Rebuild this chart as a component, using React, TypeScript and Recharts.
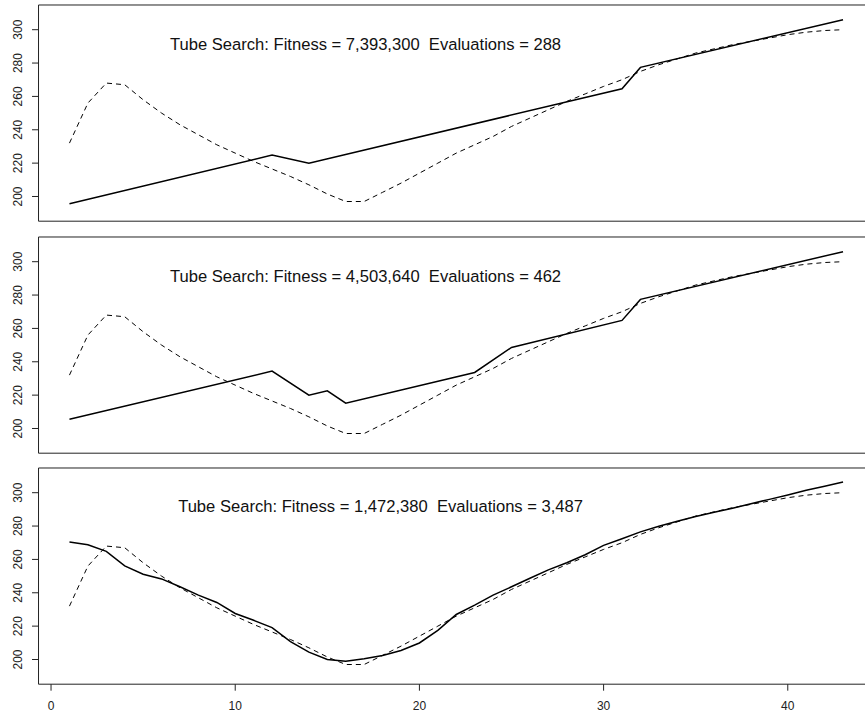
import React from "react";
import {
    LineChart,
    Line,
    XAxis,
    YAxis,
    ReferenceLine,
    ReferenceDot,
} from "recharts";

const FONT = '"Liberation Sans", Arial, Helvetica, sans-serif';

// target curve (dashed), same in every panel
const targetX = [1, 2, 3, 4, 5, 6, 7, 8, 9, 10, 11, 12, 13, 14, 15, 16, 17, 18, 19, 20, 21, 22,
    23, 24, 25, 26, 27, 28, 29, 30, 31, 32, 33, 34, 35, 36, 37, 38, 39, 40, 41, 42, 43];
const targetY = [232, 256, 268, 267, 258, 250, 243, 237, 231, 226, 221, 216.5, 212, 207, 201.5,
    197, 197, 202.5, 208, 214, 220, 226, 231, 236, 242, 247, 252, 257, 261.5, 266, 270, 275,
    279, 282.5, 286, 288.5, 291, 293, 295, 297, 298.5, 299.5, 300];

// fitted tubes (solid)
const fit1X = [1, 12, 14, 31, 32, 43];
const fit1Y = [195.6, 224.8, 220, 264.6, 277.4, 306];

const fit2X = [1, 12, 14, 15, 16, 23, 25, 31, 32, 43];
const fit2Y = [205.6, 234.4, 220, 222.6, 215.2, 233.6, 248.6, 264.8, 277.4, 306];

const fit3X = targetX;
const fit3Y = [270.4, 268.8, 264.8, 256.1, 251.1, 248.3, 243.6, 238.6, 234.2, 227.6, 223.5,
    219.1, 210.7, 204.4, 200, 199, 200.4, 202.4, 205.4, 209.9, 217.5, 227, 232.6, 238.6, 243.6,
    248.7, 253.7, 258, 262.8, 268.4, 272.4, 276.5, 279.9, 282.9, 285.7, 288.3, 290.7, 293.4,
    296, 298.6, 301.4, 303.8, 306.4];

// two spaces before "Evaluations" (nbsp keeps it from collapsing)
const titles = [
    "Tube Search: Fitness = 7,393,300\u00A0 Evaluations = 288",
    "Tube Search: Fitness = 4,503,640\u00A0 Evaluations = 462",
    "Tube Search: Fitness = 1,472,380\u00A0 Evaluations = 3,487",
];
const titleX = [6.46, 6.46, 6.9];
const titleY = [291.2, 291.3, 292];

const yTicks = [200, 220, 240, 260, 280, 300];
const xTicks = [0, 10, 20, 30, 40];

const zip = (xs: number[], ys: number[]) => xs.map((x, i) => ({ x, y: ys[i] }));

const panels = [
    { fit: zip(fit1X, fit1Y), top: 5.3 },
    { fit: zip(fit2X, fit2Y), top: 236.5 },
    { fit: zip(fit3X, fit3Y), top: 467.6 },
];
const target = zip(targetX, targetY);

const YTick = (props: any) => {
    const { y, payload } = props;
    const cx = 17.7;
    return (
        <text
            x={cx}
            y={y}
            transform={`rotate(-90 ${cx} ${y})`}
            textAnchor="middle"
            dy="0.36em"
            fontSize={12}
            fontFamily={FONT}
            fill="#222"
        >
            {payload.value}
        </text>
    );
};

const Panel = ({ idx }: { idx: number }) => {
    const p = panels[idx];
    const last = idx === 2;
    const PAD = 2;
    return (
        <div style={{ position: "absolute", left: 0, top: p.top - PAD }}>
            <LineChart
                width={880}
                height={216.2 + PAD + (last ? 30 : 1)}
                margin={{ top: PAD, right: 6, bottom: 0, left: 0 }}
            >
                <XAxis
                    dataKey="x"
                    type="number"
                    domain={[-0.68, 44.68]}
                    ticks={xTicks}
                    allowDataOverflow
                    height={last ? 30 : 1}
                    tick={last ? { fontSize: 12, fontFamily: FONT, fill: "#222" } : false}
                    tickSize={last ? 6.5 : 0}
                    tickMargin={11}
                    axisLine={{ stroke: "#222" }}
                    tickLine={{ stroke: "#222" }}
                />
                <YAxis
                    type="number"
                    domain={[185.2, 314.8]}
                    ticks={yTicks}
                    allowDataOverflow
                    width={38.5}
                    tickSize={6.5}
                    tick={<YTick />}
                    axisLine={{ stroke: "#222" }}
                    tickLine={{ stroke: "#222" }}
                />
                <ReferenceLine y={314.8} stroke="#222" ifOverflow="visible" />
                <Line
                    data={target}
                    dataKey="y"
                    stroke="#000"
                    strokeWidth={1}
                    strokeDasharray="5 4"
                    dot={false}
                    activeDot={false}
                    isAnimationActive={false}
                />
                <Line
                    data={p.fit}
                    dataKey="y"
                    stroke="#000"
                    strokeWidth={1.5}
                    dot={false}
                    activeDot={false}
                    isAnimationActive={false}
                />
                <ReferenceDot
                    x={titleX[idx]}
                    y={titleY[idx]}
                    r={0}
                    stroke="none"
                    fill="none"
                    label={{
                        value: titles[idx],
                        position: "right",
                        offset: 0,
                        fontSize: 16.6,
                        fontFamily: FONT,
                        fill: "#111",
                    }}
                />
            </LineChart>
        </div>
    );
};

export default function App() {
    return (
        <div
            style={{
                position: "absolute",
                left: 0,
                top: 0,
                width: 865,
                height: 713,
                overflow: "hidden",
                background: "#fff",
            }}
        >
            <Panel idx={0} />
            <Panel idx={1} />
            <Panel idx={2} />
        </div>
    );
}
